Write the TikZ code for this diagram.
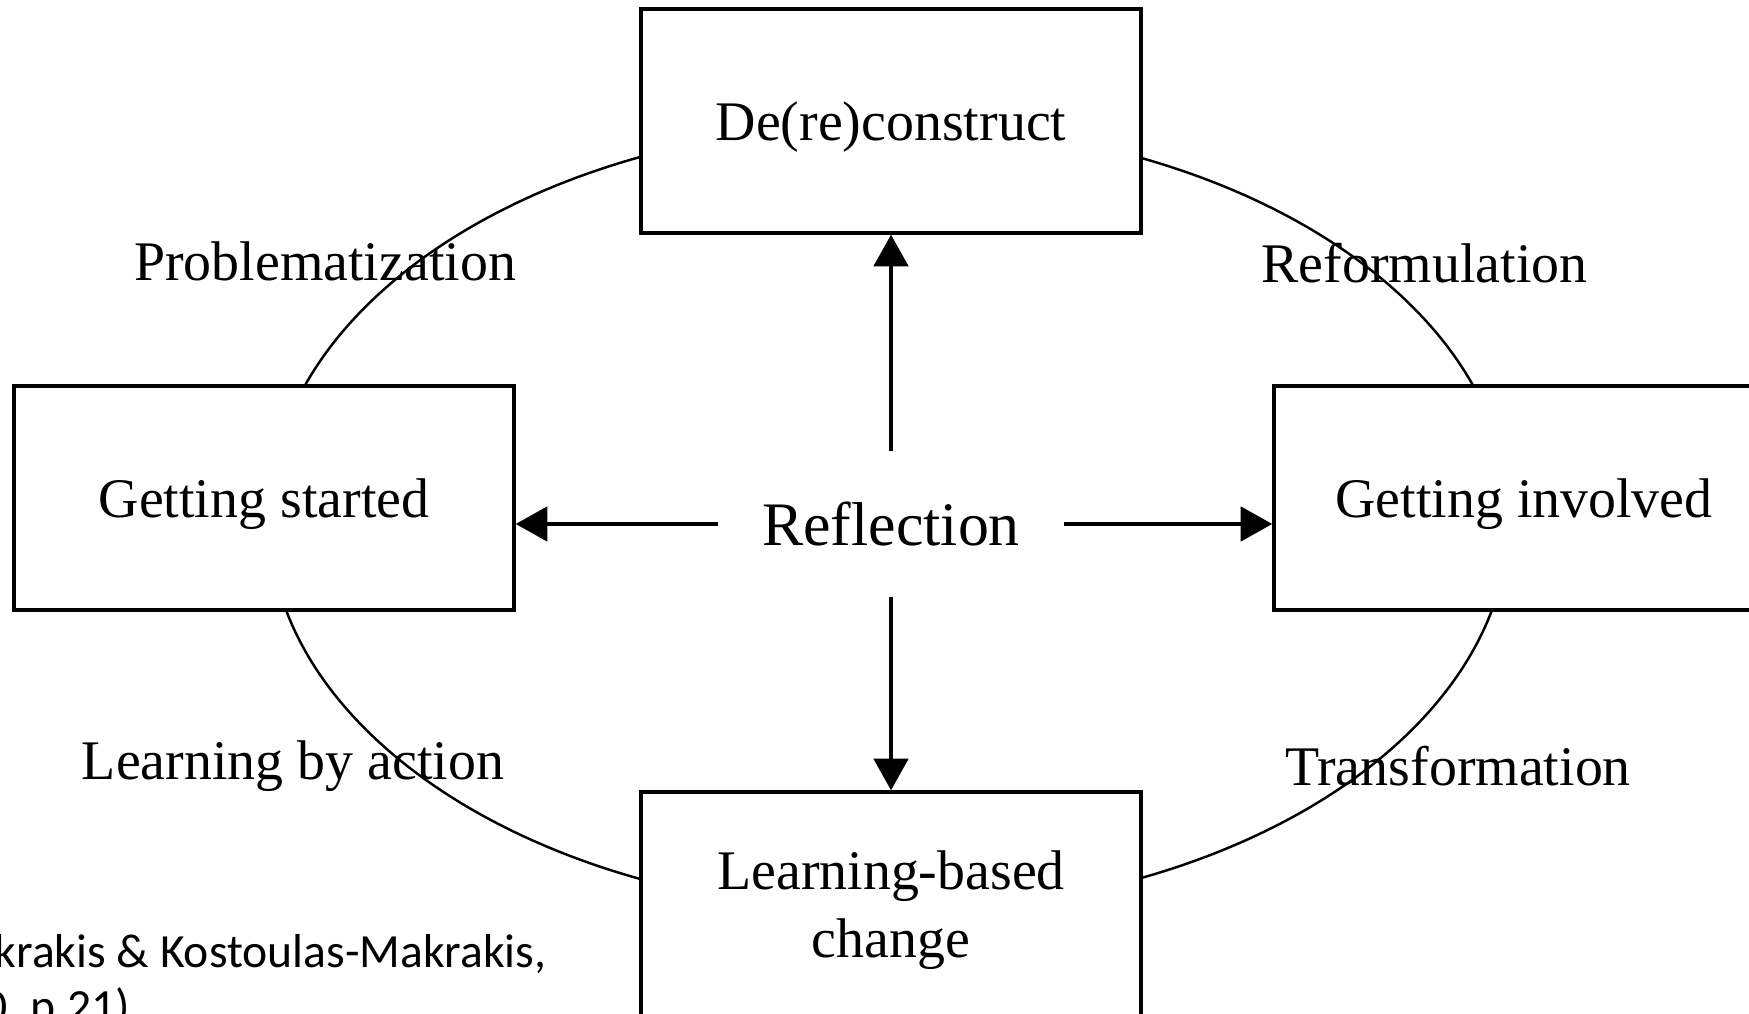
\documentclass[tikz,border=0pt]{standalone}
\usepackage{fontspec}
\setmainfont{Liberation Serif}
\newfontfamily\citefont{Carlito}
\usepackage{tikz}
\usetikzlibrary{calc}
\usetikzlibrary{positioning}
\usetikzlibrary{arrows.meta}
\tikzstyle{stagenode} = [draw, rectangle, line width=0.95pt, fill=white, minimum width=5cm, minimum height=2.24cm, text depth=0pt, align=center, font=\fontsize{15.9}{19.4}\selectfont]
\tikzstyle{phasenode} = [inner sep=0, anchor=base, font=\fontsize{15.9}{18.5}\selectfont]
\tikzstyle{reflnode} = [minimum width=3.45cm, minimum height=1.44cm, font=\fontsize{17.6}{20}\selectfont]
\tikzstyle{flow} = [line width=1.3pt, -{Triangle[length=9pt, width=9.7pt]}]
\tikzstyle{citenode} = [inner sep=0, anchor=base west, font=\citefont\fontsize{13.55}{16}\selectfont]

\begin{document}
\begin{tikzpicture}
\useasboundingbox (0,0) rectangle (17.49,10.14);
\clip (0,0) rectangle (17.49,10.14);
\node[reflnode] (refl) at (8.91,4.90) {Reflection};
\draw[line width=0.7pt] ($(refl)+(-0.02,0.06)$) ellipse (6.2 and 3.94);
\node[stagenode] (decon) at ($(refl)+(0,4.03)$) {De(re)construct};
\node[stagenode] (started) at ($(refl)+(-6.27,0.26)$) {Getting started};
\node[stagenode] (involved) at ($(refl)+(6.33,0.26)$) {Getting involved};
\node[stagenode] (lbchange) at ($(refl)+(0,-3.80)$) {Learning-based\\change};

\node[phasenode] (problem) at ($(refl)+(-5.66,2.435)$) {Problematization};
\node[phasenode] (reform) at ($(refl)+(5.335,2.41)$) {Reformulation};
\node[phasenode] (action) at ($(refl)+(-5.98,-2.56)$) {Learning by action};
\node[phasenode] (transf) at ($(refl)+(5.67,-2.62)$) {Transformation};

\draw[flow] (refl.north) -- (decon.south);
\draw[flow] (refl.south) -- (lbchange.north);
\draw[flow] (refl.west) -- (refl.west -| started.east);
\draw[flow] (refl.east) -- (refl.east -| involved.west);

\node[citenode] (cite_top) at (-0.06,0.46) {krakis \& Kostoulas-Makrakis,};
\node[citenode] (cite_bot) at (-0.17,-0.09) {0, p.21)};
\end{tikzpicture}
\end{document}
